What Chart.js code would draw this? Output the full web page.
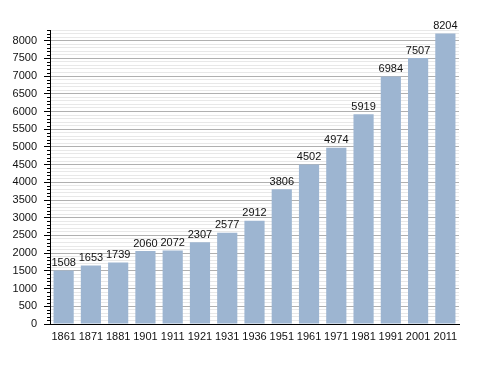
<!DOCTYPE html>
<html>
<head>
<meta charset="utf-8">
<script src="https://cdn.jsdelivr.net/npm/chart.js@4/dist/chart.umd.min.js"></script>
<style>
  html, body { margin: 0; padding: 0; background: #fff; }
  #wrap { width: 488px; height: 373px; position: relative; }
</style>
</head>
<body>
<div id="wrap"><canvas id="c" width="488" height="373"></canvas></div>
<script>
  // Population par recensement
  const years = ["1861", "1871", "1881", "1901", "1911", "1921", "1931", "1936", "1951", "1961", "1971", "1981", "1991", "2001", "2011"];
  const population = [1508, 1653, 1739, 2060, 2072, 2307, 2577, 2912, 3806, 4502, 4974, 5919, 6984, 7507, 8204];

  const FONT = "'Liberation Sans', Arial, sans-serif";

  // étiquettes au-dessus des barres
  const valueLabels = {
    id: "valueLabels",
    afterDatasetsDraw: function (chart) {
      var ctx = chart.ctx;
      var meta = chart.getDatasetMeta(0);
      ctx.save();
      ctx.font = "11px " + FONT;
      ctx.fillStyle = "#111";
      ctx.textAlign = "center";
      ctx.textBaseline = "bottom";
      meta.data.forEach(function (bar, i) {
        ctx.fillText(String(population[i]), bar.x, bar.y - 2);
      });
      ctx.restore();
    }
  };

  // petites graduations (tous les 100), plus courtes que les principales
  const minorTicks = {
    id: "minorTicks",
    afterDraw: function (chart) {
      var y = chart.scales.y;
      var ctx = chart.ctx;
      ctx.save();
      ctx.strokeStyle = "#000";
      ctx.lineWidth = 1;
      ctx.beginPath();
      y.ticks.forEach(function (t) {
        if (t.value % 500 === 0) return;
        var py = Math.round(y.getPixelForValue(t.value)) + 0.5;
        ctx.moveTo(y.right - 3, py);
        ctx.lineTo(y.right, py);
      });
      ctx.stroke();
      ctx.restore();
    }
  };

  new Chart(document.getElementById("c"), {
    type: "bar",
    data: {
      labels: years,
      datasets: [{
        data: population,
        backgroundColor: "#9db5d1",
        borderWidth: 0,
        categoryPercentage: 1,
        barPercentage: 0.74
      }]
    },
    options: {
      responsive: false,
      animation: false,
      layout: { padding: { left: 0, right: 29, top: 30, bottom: 0 } },
      plugins: { legend: { display: false }, tooltip: { enabled: false } },
      scales: {
        x: {
          offset: true,
          grid: { display: false, drawTicks: false },
          border: { color: "#000", width: 1 },
          ticks: { color: "#111", font: { family: FONT, size: 11 }, padding: 6, maxRotation: 0, autoSkip: false },
          afterFit: function (s) { s.height = 49; }
        },
        y: {
          min: 0,
          max: 8300,
          border: { color: "#000", width: 1 },
          grid: {
            color: function (c) { return c.tick.value % 500 === 0 ? "#b0b0b0" : "#e8e8e8"; },
            tickColor: function (c) { return c.tick && c.tick.value % 500 === 0 ? "#000" : "rgba(0,0,0,0)"; },
            tickLength: 6
          },
          ticks: {
            stepSize: 100,
            autoSkip: false,
            color: "#111",
            font: { family: FONT, size: 11 },
            padding: 7,
            callback: function (v) { return v % 500 === 0 ? v : ""; }
          },
          afterFit: function (s) { s.width = 50; }
        }
      }
    },
    plugins: [valueLabels, minorTicks]
  });
</script>
</body>
</html>
